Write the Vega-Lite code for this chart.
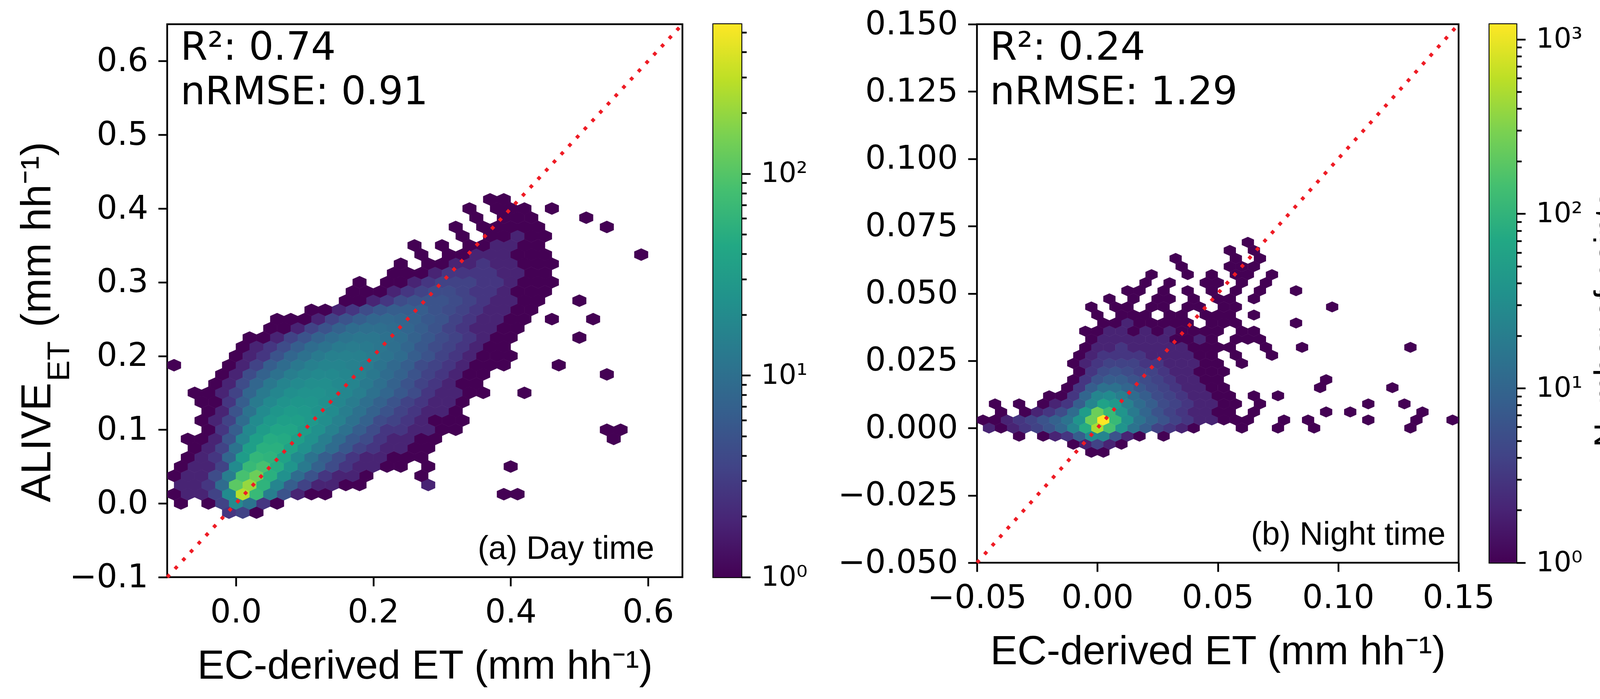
{
  "$schema": "https://vega.github.io/schema/vega-lite/v6.json",
  "background": "white",
  "padding": {"left": 40, "top": 18, "right": 40, "bottom": 20},
  "bounds": "flush",
  "spacing": 79,
  "config": {
    "font": "DejaVu Sans",
    "view": {"stroke": "black", "strokeWidth": 4.5},
    "axis": {
      "grid": false, "domain": false,
      "tickColor": "black", "tickWidth": 4.5, "tickSize": 23,
      "labelFont": "DejaVu Sans", "labelFontSize": 83, "labelColor": "black", "labelPadding": 26, "labelLimit": 0,
      "labelFlush": false, "labelOverlap": false, "labelBound": false,
      "titleFont": "Liberation Sans", "titleFontSize": 104, "titleFontWeight": "normal", "titleColor": "black", "titleLimit": 0
    }
  },
  "datasets": {
    "day": [
      {"ec":-0.01,"alive":-0.0125,"n":3},{"ec":0.01,"alive":-0.0125,"n":4},{"ec":0.03,"alive":-0.0125,"n":1},
      {"ec":-0.08,"alive":0,"n":1},{"ec":-0.04,"alive":0,"n":1},{"ec":-0.02,"alive":0,"n":4},{"ec":0,"alive":0,"n":30},{"ec":0.02,"alive":0,"n":15},{"ec":0.04,"alive":0,"n":3},{"ec":0.06,"alive":0,"n":1},
      {"ec":-0.09,"alive":0.0125,"n":1},{"ec":-0.07,"alive":0.0125,"n":2},{"ec":-0.05,"alive":0.0125,"n":2},{"ec":-0.03,"alive":0.0125,"n":4},{"ec":-0.01,"alive":0.0125,"n":30},{"ec":0.01,"alive":0.0125,"n":550},{"ec":0.03,"alive":0.0125,"n":120},{"ec":0.05,"alive":0.0125,"n":20},{"ec":0.07,"alive":0.0125,"n":6},{"ec":0.09,"alive":0.0125,"n":2},{"ec":0.11,"alive":0.0125,"n":1},{"ec":0.13,"alive":0.0125,"n":1},{"ec":0.39,"alive":0.0125,"n":1},{"ec":0.41,"alive":0.0125,"n":1},
      {"ec":-0.08,"alive":0.025,"n":2},{"ec":-0.06,"alive":0.025,"n":2},{"ec":-0.04,"alive":0.025,"n":3},{"ec":-0.02,"alive":0.025,"n":12},{"ec":0,"alive":0.025,"n":200},{"ec":0.02,"alive":0.025,"n":400},{"ec":0.04,"alive":0.025,"n":100},{"ec":0.06,"alive":0.025,"n":25},{"ec":0.08,"alive":0.025,"n":8},{"ec":0.1,"alive":0.025,"n":4},{"ec":0.12,"alive":0.025,"n":2},{"ec":0.14,"alive":0.025,"n":2},{"ec":0.16,"alive":0.025,"n":1},{"ec":0.18,"alive":0.025,"n":1},{"ec":0.28,"alive":0.025,"n":2},
      {"ec":-0.09,"alive":0.0375,"n":1},{"ec":-0.07,"alive":0.0375,"n":2},{"ec":-0.05,"alive":0.0375,"n":2},{"ec":-0.03,"alive":0.0375,"n":5},{"ec":-0.01,"alive":0.0375,"n":20},{"ec":0.01,"alive":0.0375,"n":150},{"ec":0.03,"alive":0.0375,"n":250},{"ec":0.05,"alive":0.0375,"n":90},{"ec":0.07,"alive":0.0375,"n":35},{"ec":0.09,"alive":0.0375,"n":12},{"ec":0.11,"alive":0.0375,"n":6},{"ec":0.13,"alive":0.0375,"n":3},{"ec":0.15,"alive":0.0375,"n":2},{"ec":0.17,"alive":0.0375,"n":2},{"ec":0.19,"alive":0.0375,"n":1},{"ec":0.27,"alive":0.0375,"n":1},
      {"ec":-0.08,"alive":0.05,"n":1},{"ec":-0.06,"alive":0.05,"n":2},{"ec":-0.04,"alive":0.05,"n":2},{"ec":-0.02,"alive":0.05,"n":4},{"ec":0,"alive":0.05,"n":30},{"ec":0.02,"alive":0.05,"n":120},{"ec":0.04,"alive":0.05,"n":150},{"ec":0.06,"alive":0.05,"n":80},{"ec":0.08,"alive":0.05,"n":40},{"ec":0.1,"alive":0.05,"n":18},{"ec":0.12,"alive":0.05,"n":9},{"ec":0.14,"alive":0.05,"n":5},{"ec":0.16,"alive":0.05,"n":3},{"ec":0.18,"alive":0.05,"n":2},{"ec":0.2,"alive":0.05,"n":2},{"ec":0.22,"alive":0.05,"n":1},{"ec":0.24,"alive":0.05,"n":1},{"ec":0.28,"alive":0.05,"n":1},{"ec":0.4,"alive":0.05,"n":1},
      {"ec":-0.07,"alive":0.0625,"n":1},{"ec":-0.05,"alive":0.0625,"n":2},{"ec":-0.03,"alive":0.0625,"n":3},{"ec":-0.01,"alive":0.0625,"n":10},{"ec":0.01,"alive":0.0625,"n":50},{"ec":0.03,"alive":0.0625,"n":110},{"ec":0.05,"alive":0.0625,"n":100},{"ec":0.07,"alive":0.0625,"n":60},{"ec":0.09,"alive":0.0625,"n":30},{"ec":0.11,"alive":0.0625,"n":15},{"ec":0.13,"alive":0.0625,"n":8},{"ec":0.15,"alive":0.0625,"n":5},{"ec":0.17,"alive":0.0625,"n":3},{"ec":0.19,"alive":0.0625,"n":2},{"ec":0.21,"alive":0.0625,"n":2},{"ec":0.23,"alive":0.0625,"n":1},{"ec":0.25,"alive":0.0625,"n":1},{"ec":0.27,"alive":0.0625,"n":1},
      {"ec":-0.06,"alive":0.075,"n":1},{"ec":-0.04,"alive":0.075,"n":2},{"ec":-0.02,"alive":0.075,"n":4},{"ec":0,"alive":0.075,"n":15},{"ec":0.02,"alive":0.075,"n":55},{"ec":0.04,"alive":0.075,"n":90},{"ec":0.06,"alive":0.075,"n":90},{"ec":0.08,"alive":0.075,"n":60},{"ec":0.1,"alive":0.075,"n":35},{"ec":0.12,"alive":0.075,"n":20},{"ec":0.14,"alive":0.075,"n":12},{"ec":0.16,"alive":0.075,"n":7},{"ec":0.18,"alive":0.075,"n":4},{"ec":0.2,"alive":0.075,"n":3},{"ec":0.22,"alive":0.075,"n":2},{"ec":0.24,"alive":0.075,"n":2},{"ec":0.26,"alive":0.075,"n":1},{"ec":0.28,"alive":0.075,"n":1},
      {"ec":-0.07,"alive":0.0875,"n":1},{"ec":-0.05,"alive":0.0875,"n":1},{"ec":-0.03,"alive":0.0875,"n":2},{"ec":-0.01,"alive":0.0875,"n":6},{"ec":0.01,"alive":0.0875,"n":25},{"ec":0.03,"alive":0.0875,"n":55},{"ec":0.05,"alive":0.0875,"n":80},{"ec":0.07,"alive":0.0875,"n":75},{"ec":0.09,"alive":0.0875,"n":55},{"ec":0.11,"alive":0.0875,"n":35},{"ec":0.13,"alive":0.0875,"n":20},{"ec":0.15,"alive":0.0875,"n":12},{"ec":0.17,"alive":0.0875,"n":7},{"ec":0.19,"alive":0.0875,"n":5},{"ec":0.21,"alive":0.0875,"n":3},{"ec":0.23,"alive":0.0875,"n":2},{"ec":0.25,"alive":0.0875,"n":2},{"ec":0.27,"alive":0.0875,"n":1},{"ec":0.29,"alive":0.0875,"n":1},{"ec":0.55,"alive":0.0875,"n":1},
      {"ec":-0.04,"alive":0.1,"n":1},{"ec":-0.02,"alive":0.1,"n":3},{"ec":0,"alive":0.1,"n":8},{"ec":0.02,"alive":0.1,"n":28},{"ec":0.04,"alive":0.1,"n":50},{"ec":0.06,"alive":0.1,"n":65},{"ec":0.08,"alive":0.1,"n":65},{"ec":0.1,"alive":0.1,"n":50},{"ec":0.12,"alive":0.1,"n":35},{"ec":0.14,"alive":0.1,"n":22},{"ec":0.16,"alive":0.1,"n":14},{"ec":0.18,"alive":0.1,"n":8},{"ec":0.2,"alive":0.1,"n":5},{"ec":0.22,"alive":0.1,"n":3},{"ec":0.24,"alive":0.1,"n":3},{"ec":0.26,"alive":0.1,"n":2},{"ec":0.28,"alive":0.1,"n":2},{"ec":0.3,"alive":0.1,"n":1},{"ec":0.32,"alive":0.1,"n":1},{"ec":0.54,"alive":0.1,"n":1},{"ec":0.56,"alive":0.1,"n":1},
      {"ec":-0.05,"alive":0.1125,"n":1},{"ec":-0.03,"alive":0.1125,"n":2},{"ec":-0.01,"alive":0.1125,"n":4},{"ec":0.01,"alive":0.1125,"n":12},{"ec":0.03,"alive":0.1125,"n":30},{"ec":0.05,"alive":0.1125,"n":45},{"ec":0.07,"alive":0.1125,"n":55},{"ec":0.09,"alive":0.1125,"n":55},{"ec":0.11,"alive":0.1125,"n":45},{"ec":0.13,"alive":0.1125,"n":32},{"ec":0.15,"alive":0.1125,"n":22},{"ec":0.17,"alive":0.1125,"n":14},{"ec":0.19,"alive":0.1125,"n":9},{"ec":0.21,"alive":0.1125,"n":5},{"ec":0.23,"alive":0.1125,"n":4},{"ec":0.25,"alive":0.1125,"n":3},{"ec":0.27,"alive":0.1125,"n":2},{"ec":0.29,"alive":0.1125,"n":1},{"ec":0.31,"alive":0.1125,"n":1},{"ec":0.33,"alive":0.1125,"n":1},
      {"ec":-0.04,"alive":0.125,"n":1},{"ec":-0.02,"alive":0.125,"n":2},{"ec":0,"alive":0.125,"n":6},{"ec":0.02,"alive":0.125,"n":15},{"ec":0.04,"alive":0.125,"n":30},{"ec":0.06,"alive":0.125,"n":42},{"ec":0.08,"alive":0.125,"n":48},{"ec":0.1,"alive":0.125,"n":45},{"ec":0.12,"alive":0.125,"n":38},{"ec":0.14,"alive":0.125,"n":30},{"ec":0.16,"alive":0.125,"n":20},{"ec":0.18,"alive":0.125,"n":14},{"ec":0.2,"alive":0.125,"n":9},{"ec":0.22,"alive":0.125,"n":6},{"ec":0.24,"alive":0.125,"n":4},{"ec":0.26,"alive":0.125,"n":3},{"ec":0.28,"alive":0.125,"n":2},{"ec":0.3,"alive":0.125,"n":2},{"ec":0.32,"alive":0.125,"n":1},
      {"ec":-0.05,"alive":0.1375,"n":1},{"ec":-0.03,"alive":0.1375,"n":1},{"ec":-0.01,"alive":0.1375,"n":3},{"ec":0.01,"alive":0.1375,"n":8},{"ec":0.03,"alive":0.1375,"n":18},{"ec":0.05,"alive":0.1375,"n":28},{"ec":0.07,"alive":0.1375,"n":38},{"ec":0.09,"alive":0.1375,"n":42},{"ec":0.11,"alive":0.1375,"n":40},{"ec":0.13,"alive":0.1375,"n":34},{"ec":0.15,"alive":0.1375,"n":26},{"ec":0.17,"alive":0.1375,"n":19},{"ec":0.19,"alive":0.1375,"n":13},{"ec":0.21,"alive":0.1375,"n":9},{"ec":0.23,"alive":0.1375,"n":6},{"ec":0.25,"alive":0.1375,"n":4},{"ec":0.27,"alive":0.1375,"n":3},{"ec":0.29,"alive":0.1375,"n":2},{"ec":0.31,"alive":0.1375,"n":2},{"ec":0.33,"alive":0.1375,"n":1},
      {"ec":-0.06,"alive":0.15,"n":1},{"ec":-0.04,"alive":0.15,"n":1},{"ec":-0.02,"alive":0.15,"n":2},{"ec":0,"alive":0.15,"n":4},{"ec":0.02,"alive":0.15,"n":10},{"ec":0.04,"alive":0.15,"n":18},{"ec":0.06,"alive":0.15,"n":26},{"ec":0.08,"alive":0.15,"n":33},{"ec":0.1,"alive":0.15,"n":36},{"ec":0.12,"alive":0.15,"n":36},{"ec":0.14,"alive":0.15,"n":32},{"ec":0.16,"alive":0.15,"n":26},{"ec":0.18,"alive":0.15,"n":20},{"ec":0.2,"alive":0.15,"n":14},{"ec":0.22,"alive":0.15,"n":10},{"ec":0.24,"alive":0.15,"n":7},{"ec":0.26,"alive":0.15,"n":5},{"ec":0.28,"alive":0.15,"n":3},{"ec":0.3,"alive":0.15,"n":2},{"ec":0.32,"alive":0.15,"n":2},{"ec":0.34,"alive":0.15,"n":1},{"ec":0.36,"alive":0.15,"n":1},{"ec":0.42,"alive":0.15,"n":1},
      {"ec":-0.03,"alive":0.1625,"n":1},{"ec":-0.01,"alive":0.1625,"n":2},{"ec":0.01,"alive":0.1625,"n":5},{"ec":0.03,"alive":0.1625,"n":10},{"ec":0.05,"alive":0.1625,"n":17},{"ec":0.07,"alive":0.1625,"n":24},{"ec":0.09,"alive":0.1625,"n":29},{"ec":0.11,"alive":0.1625,"n":32},{"ec":0.13,"alive":0.1625,"n":32},{"ec":0.15,"alive":0.1625,"n":28},{"ec":0.17,"alive":0.1625,"n":24},{"ec":0.19,"alive":0.1625,"n":18},{"ec":0.21,"alive":0.1625,"n":13},{"ec":0.23,"alive":0.1625,"n":9},{"ec":0.25,"alive":0.1625,"n":6},{"ec":0.27,"alive":0.1625,"n":4},{"ec":0.29,"alive":0.1625,"n":3},{"ec":0.31,"alive":0.1625,"n":2},{"ec":0.33,"alive":0.1625,"n":1},{"ec":0.35,"alive":0.1625,"n":1},
      {"ec":-0.02,"alive":0.175,"n":1},{"ec":0,"alive":0.175,"n":2},{"ec":0.02,"alive":0.175,"n":5},{"ec":0.04,"alive":0.175,"n":9},{"ec":0.06,"alive":0.175,"n":14},{"ec":0.08,"alive":0.175,"n":20},{"ec":0.1,"alive":0.175,"n":25},{"ec":0.12,"alive":0.175,"n":28},{"ec":0.14,"alive":0.175,"n":28},{"ec":0.16,"alive":0.175,"n":26},{"ec":0.18,"alive":0.175,"n":22},{"ec":0.2,"alive":0.175,"n":17},{"ec":0.22,"alive":0.175,"n":12},{"ec":0.24,"alive":0.175,"n":9},{"ec":0.26,"alive":0.175,"n":6},{"ec":0.28,"alive":0.175,"n":4},{"ec":0.3,"alive":0.175,"n":3},{"ec":0.32,"alive":0.175,"n":2},{"ec":0.34,"alive":0.175,"n":1},{"ec":0.36,"alive":0.175,"n":1},{"ec":0.54,"alive":0.175,"n":1},
      {"ec":-0.09,"alive":0.1875,"n":1},{"ec":-0.01,"alive":0.1875,"n":1},{"ec":0.01,"alive":0.1875,"n":2},{"ec":0.03,"alive":0.1875,"n":4},{"ec":0.05,"alive":0.1875,"n":8},{"ec":0.07,"alive":0.1875,"n":12},{"ec":0.09,"alive":0.1875,"n":17},{"ec":0.11,"alive":0.1875,"n":21},{"ec":0.13,"alive":0.1875,"n":24},{"ec":0.15,"alive":0.1875,"n":24},{"ec":0.17,"alive":0.1875,"n":22},{"ec":0.19,"alive":0.1875,"n":19},{"ec":0.21,"alive":0.1875,"n":15},{"ec":0.23,"alive":0.1875,"n":11},{"ec":0.25,"alive":0.1875,"n":8},{"ec":0.27,"alive":0.1875,"n":5},{"ec":0.29,"alive":0.1875,"n":4},{"ec":0.31,"alive":0.1875,"n":3},{"ec":0.33,"alive":0.1875,"n":2},{"ec":0.35,"alive":0.1875,"n":1},{"ec":0.37,"alive":0.1875,"n":1},{"ec":0.39,"alive":0.1875,"n":1},{"ec":0.47,"alive":0.1875,"n":1},
      {"ec":0,"alive":0.2,"n":1},{"ec":0.02,"alive":0.2,"n":2},{"ec":0.04,"alive":0.2,"n":3},{"ec":0.06,"alive":0.2,"n":6},{"ec":0.08,"alive":0.2,"n":10},{"ec":0.1,"alive":0.2,"n":14},{"ec":0.12,"alive":0.2,"n":18},{"ec":0.14,"alive":0.2,"n":21},{"ec":0.16,"alive":0.2,"n":22},{"ec":0.18,"alive":0.2,"n":21},{"ec":0.2,"alive":0.2,"n":19},{"ec":0.22,"alive":0.2,"n":15},{"ec":0.24,"alive":0.2,"n":12},{"ec":0.26,"alive":0.2,"n":8},{"ec":0.28,"alive":0.2,"n":6},{"ec":0.3,"alive":0.2,"n":4},{"ec":0.32,"alive":0.2,"n":3},{"ec":0.34,"alive":0.2,"n":2},{"ec":0.36,"alive":0.2,"n":1},{"ec":0.38,"alive":0.2,"n":1},{"ec":0.4,"alive":0.2,"n":1},
      {"ec":0.01,"alive":0.2125,"n":1},{"ec":0.03,"alive":0.2125,"n":2},{"ec":0.05,"alive":0.2125,"n":3},{"ec":0.07,"alive":0.2125,"n":5},{"ec":0.09,"alive":0.2125,"n":8},{"ec":0.11,"alive":0.2125,"n":12},{"ec":0.13,"alive":0.2125,"n":15},{"ec":0.15,"alive":0.2125,"n":18},{"ec":0.17,"alive":0.2125,"n":19},{"ec":0.19,"alive":0.2125,"n":18},{"ec":0.21,"alive":0.2125,"n":16},{"ec":0.23,"alive":0.2125,"n":13},{"ec":0.25,"alive":0.2125,"n":10},{"ec":0.27,"alive":0.2125,"n":7},{"ec":0.29,"alive":0.2125,"n":5},{"ec":0.31,"alive":0.2125,"n":4},{"ec":0.33,"alive":0.2125,"n":3},{"ec":0.35,"alive":0.2125,"n":2},{"ec":0.37,"alive":0.2125,"n":1},{"ec":0.39,"alive":0.2125,"n":1},
      {"ec":0.02,"alive":0.225,"n":1},{"ec":0.04,"alive":0.225,"n":1},{"ec":0.06,"alive":0.225,"n":2},{"ec":0.08,"alive":0.225,"n":4},{"ec":0.1,"alive":0.225,"n":6},{"ec":0.12,"alive":0.225,"n":9},{"ec":0.14,"alive":0.225,"n":12},{"ec":0.16,"alive":0.225,"n":15},{"ec":0.18,"alive":0.225,"n":16},{"ec":0.2,"alive":0.225,"n":16},{"ec":0.22,"alive":0.225,"n":14},{"ec":0.24,"alive":0.225,"n":12},{"ec":0.26,"alive":0.225,"n":9},{"ec":0.28,"alive":0.225,"n":7},{"ec":0.3,"alive":0.225,"n":5},{"ec":0.32,"alive":0.225,"n":4},{"ec":0.34,"alive":0.225,"n":3},{"ec":0.36,"alive":0.225,"n":2},{"ec":0.38,"alive":0.225,"n":1},{"ec":0.4,"alive":0.225,"n":1},{"ec":0.5,"alive":0.225,"n":1},
      {"ec":0.05,"alive":0.2375,"n":1},{"ec":0.07,"alive":0.2375,"n":1},{"ec":0.09,"alive":0.2375,"n":2},{"ec":0.11,"alive":0.2375,"n":4},{"ec":0.13,"alive":0.2375,"n":6},{"ec":0.15,"alive":0.2375,"n":9},{"ec":0.17,"alive":0.2375,"n":12},{"ec":0.19,"alive":0.2375,"n":13},{"ec":0.21,"alive":0.2375,"n":13},{"ec":0.23,"alive":0.2375,"n":12},{"ec":0.25,"alive":0.2375,"n":10},{"ec":0.27,"alive":0.2375,"n":8},{"ec":0.29,"alive":0.2375,"n":6},{"ec":0.31,"alive":0.2375,"n":4},{"ec":0.33,"alive":0.2375,"n":3},{"ec":0.35,"alive":0.2375,"n":2},{"ec":0.37,"alive":0.2375,"n":2},{"ec":0.39,"alive":0.2375,"n":1},{"ec":0.41,"alive":0.2375,"n":1},
      {"ec":0.06,"alive":0.25,"n":1},{"ec":0.08,"alive":0.25,"n":1},{"ec":0.1,"alive":0.25,"n":1},{"ec":0.12,"alive":0.25,"n":2},{"ec":0.14,"alive":0.25,"n":4},{"ec":0.16,"alive":0.25,"n":6},{"ec":0.18,"alive":0.25,"n":8},{"ec":0.2,"alive":0.25,"n":10},{"ec":0.22,"alive":0.25,"n":11},{"ec":0.24,"alive":0.25,"n":10},{"ec":0.26,"alive":0.25,"n":9},{"ec":0.28,"alive":0.25,"n":7},{"ec":0.3,"alive":0.25,"n":6},{"ec":0.32,"alive":0.25,"n":4},{"ec":0.34,"alive":0.25,"n":3},{"ec":0.36,"alive":0.25,"n":2},{"ec":0.38,"alive":0.25,"n":2},{"ec":0.4,"alive":0.25,"n":1},{"ec":0.42,"alive":0.25,"n":1},{"ec":0.46,"alive":0.25,"n":1},{"ec":0.52,"alive":0.25,"n":1},
      {"ec":0.11,"alive":0.2625,"n":1},{"ec":0.13,"alive":0.2625,"n":1},{"ec":0.15,"alive":0.2625,"n":2},{"ec":0.17,"alive":0.2625,"n":3},{"ec":0.19,"alive":0.2625,"n":5},{"ec":0.21,"alive":0.2625,"n":7},{"ec":0.23,"alive":0.2625,"n":8},{"ec":0.25,"alive":0.2625,"n":8},{"ec":0.27,"alive":0.2625,"n":8},{"ec":0.29,"alive":0.2625,"n":6},{"ec":0.31,"alive":0.2625,"n":5},{"ec":0.33,"alive":0.2625,"n":4},{"ec":0.35,"alive":0.2625,"n":3},{"ec":0.37,"alive":0.2625,"n":2},{"ec":0.39,"alive":0.2625,"n":2},{"ec":0.41,"alive":0.2625,"n":1},{"ec":0.43,"alive":0.2625,"n":1},
      {"ec":0.16,"alive":0.275,"n":1},{"ec":0.18,"alive":0.275,"n":1},{"ec":0.2,"alive":0.275,"n":2},{"ec":0.22,"alive":0.275,"n":3},{"ec":0.24,"alive":0.275,"n":5},{"ec":0.26,"alive":0.275,"n":6},{"ec":0.28,"alive":0.275,"n":6},{"ec":0.3,"alive":0.275,"n":6},{"ec":0.32,"alive":0.275,"n":5},{"ec":0.34,"alive":0.275,"n":4},{"ec":0.36,"alive":0.275,"n":3},{"ec":0.38,"alive":0.275,"n":2},{"ec":0.4,"alive":0.275,"n":2},{"ec":0.42,"alive":0.275,"n":1},{"ec":0.44,"alive":0.275,"n":1},{"ec":0.5,"alive":0.275,"n":1},
      {"ec":0.17,"alive":0.2875,"n":1},{"ec":0.19,"alive":0.2875,"n":1},{"ec":0.21,"alive":0.2875,"n":1},{"ec":0.23,"alive":0.2875,"n":2},{"ec":0.25,"alive":0.2875,"n":3},{"ec":0.27,"alive":0.2875,"n":4},{"ec":0.29,"alive":0.2875,"n":5},{"ec":0.31,"alive":0.2875,"n":5},{"ec":0.33,"alive":0.2875,"n":4},{"ec":0.35,"alive":0.2875,"n":3},{"ec":0.37,"alive":0.2875,"n":3},{"ec":0.39,"alive":0.2875,"n":2},{"ec":0.41,"alive":0.2875,"n":1},{"ec":0.43,"alive":0.2875,"n":1},{"ec":0.45,"alive":0.2875,"n":1},
      {"ec":0.18,"alive":0.3,"n":1},{"ec":0.22,"alive":0.3,"n":1},{"ec":0.24,"alive":0.3,"n":1},{"ec":0.26,"alive":0.3,"n":2},{"ec":0.28,"alive":0.3,"n":3},{"ec":0.3,"alive":0.3,"n":4},{"ec":0.32,"alive":0.3,"n":4},{"ec":0.34,"alive":0.3,"n":4},{"ec":0.36,"alive":0.3,"n":3},{"ec":0.38,"alive":0.3,"n":3},{"ec":0.4,"alive":0.3,"n":2},{"ec":0.42,"alive":0.3,"n":1},{"ec":0.44,"alive":0.3,"n":1},{"ec":0.46,"alive":0.3,"n":1},
      {"ec":0.23,"alive":0.3125,"n":1},{"ec":0.25,"alive":0.3125,"n":1},{"ec":0.27,"alive":0.3125,"n":1},{"ec":0.29,"alive":0.3125,"n":2},{"ec":0.31,"alive":0.3125,"n":3},{"ec":0.33,"alive":0.3125,"n":3},{"ec":0.35,"alive":0.3125,"n":3},{"ec":0.37,"alive":0.3125,"n":3},{"ec":0.39,"alive":0.3125,"n":2},{"ec":0.41,"alive":0.3125,"n":2},{"ec":0.43,"alive":0.3125,"n":1},{"ec":0.45,"alive":0.3125,"n":1},
      {"ec":0.24,"alive":0.325,"n":1},{"ec":0.28,"alive":0.325,"n":1},{"ec":0.3,"alive":0.325,"n":1},{"ec":0.32,"alive":0.325,"n":2},{"ec":0.34,"alive":0.325,"n":2},{"ec":0.36,"alive":0.325,"n":3},{"ec":0.38,"alive":0.325,"n":2},{"ec":0.4,"alive":0.325,"n":2},{"ec":0.42,"alive":0.325,"n":1},{"ec":0.44,"alive":0.325,"n":1},{"ec":0.46,"alive":0.325,"n":1},
      {"ec":0.27,"alive":0.3375,"n":1},{"ec":0.31,"alive":0.3375,"n":1},{"ec":0.33,"alive":0.3375,"n":1},{"ec":0.35,"alive":0.3375,"n":2},{"ec":0.37,"alive":0.3375,"n":2},{"ec":0.39,"alive":0.3375,"n":2},{"ec":0.41,"alive":0.3375,"n":1},{"ec":0.43,"alive":0.3375,"n":1},{"ec":0.45,"alive":0.3375,"n":1},{"ec":0.59,"alive":0.3375,"n":1},
      {"ec":0.26,"alive":0.35,"n":1},{"ec":0.3,"alive":0.35,"n":1},{"ec":0.34,"alive":0.35,"n":1},{"ec":0.36,"alive":0.35,"n":1},{"ec":0.38,"alive":0.35,"n":2},{"ec":0.4,"alive":0.35,"n":2},{"ec":0.42,"alive":0.35,"n":1},{"ec":0.44,"alive":0.35,"n":1},
      {"ec":0.33,"alive":0.3625,"n":1},{"ec":0.37,"alive":0.3625,"n":1},{"ec":0.39,"alive":0.3625,"n":1},{"ec":0.41,"alive":0.3625,"n":2},{"ec":0.43,"alive":0.3625,"n":1},{"ec":0.45,"alive":0.3625,"n":1},
      {"ec":0.32,"alive":0.375,"n":1},{"ec":0.36,"alive":0.375,"n":1},{"ec":0.38,"alive":0.375,"n":1},{"ec":0.4,"alive":0.375,"n":1},{"ec":0.42,"alive":0.375,"n":1},{"ec":0.44,"alive":0.375,"n":1},{"ec":0.54,"alive":0.375,"n":1},
      {"ec":0.35,"alive":0.3875,"n":1},{"ec":0.39,"alive":0.3875,"n":1},{"ec":0.41,"alive":0.3875,"n":1},{"ec":0.43,"alive":0.3875,"n":1},{"ec":0.51,"alive":0.3875,"n":1},
      {"ec":0.34,"alive":0.4,"n":1},{"ec":0.38,"alive":0.4,"n":1},{"ec":0.4,"alive":0.4,"n":1},{"ec":0.42,"alive":0.4,"n":1},{"ec":0.46,"alive":0.4,"n":1},
      {"ec":0.37,"alive":0.4125,"n":1},{"ec":0.39,"alive":0.4125,"n":1}
    ],
    "night": [
      {"ec":-0.0025,"alive":-0.009,"n":1},{"ec":0.0025,"alive":-0.009,"n":1},
      {"ec":-0.01,"alive":-0.006,"n":1},{"ec":-0.005,"alive":-0.006,"n":2},{"ec":0,"alive":-0.006,"n":4},{"ec":0.005,"alive":-0.006,"n":2},{"ec":0.01,"alive":-0.006,"n":1},
      {"ec":-0.0325,"alive":-0.003,"n":1},{"ec":-0.0225,"alive":-0.003,"n":1},{"ec":-0.0175,"alive":-0.003,"n":2},{"ec":-0.0125,"alive":-0.003,"n":3},{"ec":-0.0075,"alive":-0.003,"n":8},{"ec":-0.0025,"alive":-0.003,"n":30},{"ec":0.0025,"alive":-0.003,"n":25},{"ec":0.0075,"alive":-0.003,"n":6},{"ec":0.0125,"alive":-0.003,"n":2},{"ec":0.0175,"alive":-0.003,"n":1},{"ec":0.0275,"alive":-0.003,"n":1},
      {"ec":-0.045,"alive":0,"n":2},{"ec":-0.04,"alive":0,"n":1},{"ec":-0.035,"alive":0,"n":2},{"ec":-0.03,"alive":0,"n":3},{"ec":-0.025,"alive":0,"n":4},{"ec":-0.02,"alive":0,"n":6},{"ec":-0.015,"alive":0,"n":10},{"ec":-0.01,"alive":0,"n":25},{"ec":-0.005,"alive":0,"n":80},{"ec":0,"alive":0,"n":500},{"ec":0.005,"alive":0,"n":150},{"ec":0.01,"alive":0,"n":40},{"ec":0.015,"alive":0,"n":15},{"ec":0.02,"alive":0,"n":8},{"ec":0.025,"alive":0,"n":4},{"ec":0.03,"alive":0,"n":3},{"ec":0.035,"alive":0,"n":2},{"ec":0.04,"alive":0,"n":1},{"ec":0.06,"alive":0,"n":1},{"ec":0.075,"alive":0,"n":1},{"ec":0.09,"alive":0,"n":1},{"ec":0.13,"alive":0,"n":1},
      {"ec":-0.0475,"alive":0.003,"n":1},{"ec":-0.0425,"alive":0.003,"n":1},{"ec":-0.0375,"alive":0.003,"n":2},{"ec":-0.0325,"alive":0.003,"n":3},{"ec":-0.0275,"alive":0.003,"n":4},{"ec":-0.0225,"alive":0.003,"n":6},{"ec":-0.0175,"alive":0.003,"n":9},{"ec":-0.0125,"alive":0.003,"n":15},{"ec":-0.0075,"alive":0.003,"n":40},{"ec":-0.0025,"alive":0.003,"n":250},{"ec":0.0025,"alive":0.003,"n":1200},{"ec":0.0075,"alive":0.003,"n":120},{"ec":0.0125,"alive":0.003,"n":35},{"ec":0.0175,"alive":0.003,"n":15},{"ec":0.0225,"alive":0.003,"n":9},{"ec":0.0275,"alive":0.003,"n":6},{"ec":0.0325,"alive":0.003,"n":4},{"ec":0.0375,"alive":0.003,"n":3},{"ec":0.0425,"alive":0.003,"n":2},{"ec":0.0475,"alive":0.003,"n":2},{"ec":0.0525,"alive":0.003,"n":1},{"ec":0.0575,"alive":0.003,"n":1},{"ec":0.0625,"alive":0.003,"n":1},{"ec":0.0775,"alive":0.003,"n":1},{"ec":0.0875,"alive":0.003,"n":1},{"ec":0.1125,"alive":0.003,"n":1},{"ec":0.1325,"alive":0.003,"n":1},{"ec":0.1475,"alive":0.003,"n":1},
      {"ec":-0.04,"alive":0.006,"n":1},{"ec":-0.03,"alive":0.006,"n":1},{"ec":-0.025,"alive":0.006,"n":2},{"ec":-0.02,"alive":0.006,"n":3},{"ec":-0.015,"alive":0.006,"n":5},{"ec":-0.01,"alive":0.006,"n":12},{"ec":-0.005,"alive":0.006,"n":50},{"ec":0,"alive":0.006,"n":250},{"ec":0.005,"alive":0.006,"n":120},{"ec":0.01,"alive":0.006,"n":40},{"ec":0.015,"alive":0.006,"n":18},{"ec":0.02,"alive":0.006,"n":10},{"ec":0.025,"alive":0.006,"n":6},{"ec":0.03,"alive":0.006,"n":4},{"ec":0.035,"alive":0.006,"n":3},{"ec":0.04,"alive":0.006,"n":2},{"ec":0.045,"alive":0.006,"n":2},{"ec":0.05,"alive":0.006,"n":1},{"ec":0.055,"alive":0.006,"n":1},{"ec":0.065,"alive":0.006,"n":1},{"ec":0.095,"alive":0.006,"n":1},{"ec":0.105,"alive":0.006,"n":1},{"ec":0.135,"alive":0.006,"n":1},
      {"ec":-0.0425,"alive":0.009,"n":1},{"ec":-0.0325,"alive":0.009,"n":1},{"ec":-0.0225,"alive":0.009,"n":1},{"ec":-0.0175,"alive":0.009,"n":2},{"ec":-0.0125,"alive":0.009,"n":3},{"ec":-0.0075,"alive":0.009,"n":8},{"ec":-0.0025,"alive":0.009,"n":25},{"ec":0.0025,"alive":0.009,"n":60},{"ec":0.0075,"alive":0.009,"n":45},{"ec":0.0125,"alive":0.009,"n":22},{"ec":0.0175,"alive":0.009,"n":12},{"ec":0.0225,"alive":0.009,"n":8},{"ec":0.0275,"alive":0.009,"n":5},{"ec":0.0325,"alive":0.009,"n":4},{"ec":0.0375,"alive":0.009,"n":3},{"ec":0.0425,"alive":0.009,"n":2},{"ec":0.0475,"alive":0.009,"n":2},{"ec":0.0525,"alive":0.009,"n":1},{"ec":0.0575,"alive":0.009,"n":1},{"ec":0.0675,"alive":0.009,"n":1},{"ec":0.1125,"alive":0.009,"n":1},{"ec":0.1275,"alive":0.009,"n":1},
      {"ec":-0.02,"alive":0.012,"n":1},{"ec":-0.015,"alive":0.012,"n":1},{"ec":-0.01,"alive":0.012,"n":3},{"ec":-0.005,"alive":0.012,"n":10},{"ec":0,"alive":0.012,"n":25},{"ec":0.005,"alive":0.012,"n":30},{"ec":0.01,"alive":0.012,"n":20},{"ec":0.015,"alive":0.012,"n":12},{"ec":0.02,"alive":0.012,"n":8},{"ec":0.025,"alive":0.012,"n":5},{"ec":0.03,"alive":0.012,"n":4},{"ec":0.035,"alive":0.012,"n":3},{"ec":0.04,"alive":0.012,"n":2},{"ec":0.045,"alive":0.012,"n":2},{"ec":0.05,"alive":0.012,"n":1},{"ec":0.055,"alive":0.012,"n":1},{"ec":0.065,"alive":0.012,"n":1},{"ec":0.075,"alive":0.012,"n":1},
      {"ec":-0.0125,"alive":0.015,"n":1},{"ec":-0.0075,"alive":0.015,"n":3},{"ec":-0.0025,"alive":0.015,"n":8},{"ec":0.0025,"alive":0.015,"n":14},{"ec":0.0075,"alive":0.015,"n":14},{"ec":0.0125,"alive":0.015,"n":10},{"ec":0.0175,"alive":0.015,"n":7},{"ec":0.0225,"alive":0.015,"n":5},{"ec":0.0275,"alive":0.015,"n":4},{"ec":0.0325,"alive":0.015,"n":3},{"ec":0.0375,"alive":0.015,"n":2},{"ec":0.0425,"alive":0.015,"n":2},{"ec":0.0475,"alive":0.015,"n":1},{"ec":0.0525,"alive":0.015,"n":1},{"ec":0.0925,"alive":0.015,"n":1},{"ec":0.1225,"alive":0.015,"n":1},
      {"ec":-0.01,"alive":0.018,"n":1},{"ec":-0.005,"alive":0.018,"n":3},{"ec":0,"alive":0.018,"n":6},{"ec":0.005,"alive":0.018,"n":8},{"ec":0.01,"alive":0.018,"n":8},{"ec":0.015,"alive":0.018,"n":6},{"ec":0.02,"alive":0.018,"n":5},{"ec":0.025,"alive":0.018,"n":4},{"ec":0.03,"alive":0.018,"n":3},{"ec":0.035,"alive":0.018,"n":2},{"ec":0.04,"alive":0.018,"n":2},{"ec":0.045,"alive":0.018,"n":1},{"ec":0.05,"alive":0.018,"n":1},{"ec":0.095,"alive":0.018,"n":1},
      {"ec":-0.0075,"alive":0.021,"n":1},{"ec":-0.0025,"alive":0.021,"n":3},{"ec":0.0025,"alive":0.021,"n":5},{"ec":0.0075,"alive":0.021,"n":6},{"ec":0.0125,"alive":0.021,"n":5},{"ec":0.0175,"alive":0.021,"n":4},{"ec":0.0225,"alive":0.021,"n":4},{"ec":0.0275,"alive":0.021,"n":3},{"ec":0.0325,"alive":0.021,"n":2},{"ec":0.0375,"alive":0.021,"n":2},{"ec":0.0425,"alive":0.021,"n":1},{"ec":0.0475,"alive":0.021,"n":1},{"ec":0.0525,"alive":0.021,"n":1},
      {"ec":-0.01,"alive":0.024,"n":1},{"ec":-0.005,"alive":0.024,"n":2},{"ec":0,"alive":0.024,"n":3},{"ec":0.005,"alive":0.024,"n":4},{"ec":0.01,"alive":0.024,"n":4},{"ec":0.015,"alive":0.024,"n":4},{"ec":0.02,"alive":0.024,"n":3},{"ec":0.025,"alive":0.024,"n":3},{"ec":0.03,"alive":0.024,"n":2},{"ec":0.035,"alive":0.024,"n":2},{"ec":0.04,"alive":0.024,"n":2},{"ec":0.045,"alive":0.024,"n":1},{"ec":0.05,"alive":0.024,"n":1},{"ec":0.06,"alive":0.024,"n":1},
      {"ec":-0.0075,"alive":0.027,"n":1},{"ec":-0.0025,"alive":0.027,"n":2},{"ec":0.0025,"alive":0.027,"n":3},{"ec":0.0075,"alive":0.027,"n":3},{"ec":0.0125,"alive":0.027,"n":3},{"ec":0.0175,"alive":0.027,"n":3},{"ec":0.0225,"alive":0.027,"n":2},{"ec":0.0275,"alive":0.027,"n":2},{"ec":0.0325,"alive":0.027,"n":2},{"ec":0.0375,"alive":0.027,"n":2},{"ec":0.0425,"alive":0.027,"n":1},{"ec":0.0475,"alive":0.027,"n":1},{"ec":0.0575,"alive":0.027,"n":1},{"ec":0.0725,"alive":0.027,"n":1},
      {"ec":-0.005,"alive":0.03,"n":1},{"ec":0,"alive":0.03,"n":2},{"ec":0.005,"alive":0.03,"n":2},{"ec":0.01,"alive":0.03,"n":3},{"ec":0.015,"alive":0.03,"n":2},{"ec":0.02,"alive":0.03,"n":2},{"ec":0.025,"alive":0.03,"n":2},{"ec":0.03,"alive":0.03,"n":2},{"ec":0.035,"alive":0.03,"n":2},{"ec":0.04,"alive":0.03,"n":1},{"ec":0.045,"alive":0.03,"n":1},{"ec":0.05,"alive":0.03,"n":1},{"ec":0.055,"alive":0.03,"n":1},{"ec":0.07,"alive":0.03,"n":1},{"ec":0.085,"alive":0.03,"n":1},{"ec":0.13,"alive":0.03,"n":1},
      {"ec":-0.0025,"alive":0.033,"n":1},{"ec":0.0025,"alive":0.033,"n":2},{"ec":0.0075,"alive":0.033,"n":2},{"ec":0.0125,"alive":0.033,"n":2},{"ec":0.0175,"alive":0.033,"n":2},{"ec":0.0225,"alive":0.033,"n":2},{"ec":0.0275,"alive":0.033,"n":2},{"ec":0.0325,"alive":0.033,"n":1},{"ec":0.0375,"alive":0.033,"n":1},{"ec":0.0425,"alive":0.033,"n":2},{"ec":0.0475,"alive":0.033,"n":1},{"ec":0.0575,"alive":0.033,"n":1},{"ec":0.0625,"alive":0.033,"n":1},{"ec":0.0675,"alive":0.033,"n":1},
      {"ec":-0.005,"alive":0.036,"n":1},{"ec":0,"alive":0.036,"n":1},{"ec":0.005,"alive":0.036,"n":2},{"ec":0.01,"alive":0.036,"n":2},{"ec":0.015,"alive":0.036,"n":1},{"ec":0.02,"alive":0.036,"n":2},{"ec":0.025,"alive":0.036,"n":1},{"ec":0.03,"alive":0.036,"n":2},{"ec":0.035,"alive":0.036,"n":1},{"ec":0.04,"alive":0.036,"n":1},{"ec":0.045,"alive":0.036,"n":1},{"ec":0.05,"alive":0.036,"n":1},{"ec":0.06,"alive":0.036,"n":1},{"ec":0.065,"alive":0.036,"n":1},
      {"ec":0.0025,"alive":0.039,"n":1},{"ec":0.0075,"alive":0.039,"n":1},{"ec":0.0125,"alive":0.039,"n":2},{"ec":0.0175,"alive":0.039,"n":1},{"ec":0.0225,"alive":0.039,"n":1},{"ec":0.0275,"alive":0.039,"n":1},{"ec":0.0325,"alive":0.039,"n":1},{"ec":0.0375,"alive":0.039,"n":1},{"ec":0.0475,"alive":0.039,"n":1},{"ec":0.0525,"alive":0.039,"n":1},{"ec":0.0575,"alive":0.039,"n":1},{"ec":0.0825,"alive":0.039,"n":1},
      {"ec":0,"alive":0.042,"n":1},{"ec":0.01,"alive":0.042,"n":1},{"ec":0.015,"alive":0.042,"n":1},{"ec":0.02,"alive":0.042,"n":1},{"ec":0.03,"alive":0.042,"n":1},{"ec":0.035,"alive":0.042,"n":1},{"ec":0.045,"alive":0.042,"n":1},{"ec":0.05,"alive":0.042,"n":1},{"ec":0.055,"alive":0.042,"n":1},{"ec":0.065,"alive":0.042,"n":1},
      {"ec":-0.0025,"alive":0.045,"n":1},{"ec":0.0075,"alive":0.045,"n":1},{"ec":0.0125,"alive":0.045,"n":1},{"ec":0.0225,"alive":0.045,"n":1},{"ec":0.0275,"alive":0.045,"n":1},{"ec":0.0375,"alive":0.045,"n":1},{"ec":0.0425,"alive":0.045,"n":1},{"ec":0.0525,"alive":0.045,"n":1},{"ec":0.0575,"alive":0.045,"n":1},{"ec":0.0975,"alive":0.045,"n":1},
      {"ec":0.005,"alive":0.048,"n":1},{"ec":0.015,"alive":0.048,"n":1},{"ec":0.025,"alive":0.048,"n":1},{"ec":0.03,"alive":0.048,"n":1},{"ec":0.04,"alive":0.048,"n":1},{"ec":0.05,"alive":0.048,"n":1},{"ec":0.055,"alive":0.048,"n":1},{"ec":0.065,"alive":0.048,"n":1},
      {"ec":0.0125,"alive":0.051,"n":1},{"ec":0.0175,"alive":0.051,"n":1},{"ec":0.0275,"alive":0.051,"n":1},{"ec":0.0375,"alive":0.051,"n":1},{"ec":0.0475,"alive":0.051,"n":1},{"ec":0.0575,"alive":0.051,"n":1},{"ec":0.0675,"alive":0.051,"n":1},{"ec":0.0825,"alive":0.051,"n":1},
      {"ec":0.02,"alive":0.054,"n":1},{"ec":0.03,"alive":0.054,"n":1},{"ec":0.045,"alive":0.054,"n":1},{"ec":0.05,"alive":0.054,"n":1},{"ec":0.06,"alive":0.054,"n":1},{"ec":0.07,"alive":0.054,"n":1},
      {"ec":0.0225,"alive":0.057,"n":1},{"ec":0.0375,"alive":0.057,"n":1},{"ec":0.0475,"alive":0.057,"n":1},{"ec":0.0575,"alive":0.057,"n":1},{"ec":0.0625,"alive":0.057,"n":1},{"ec":0.0725,"alive":0.057,"n":1},
      {"ec":0.035,"alive":0.06,"n":1},{"ec":0.055,"alive":0.06,"n":1},{"ec":0.06,"alive":0.06,"n":1},{"ec":0.065,"alive":0.06,"n":1},
      {"ec":0.0325,"alive":0.063,"n":1},{"ec":0.0575,"alive":0.063,"n":1},{"ec":0.0675,"alive":0.063,"n":1},
      {"ec":0.055,"alive":0.066,"n":1},{"ec":0.065,"alive":0.066,"n":1},
      {"ec":0.0625,"alive":0.069,"n":1}
    ]
  },
  "hconcat": [
    {
      "width": 1319,
      "height": 1416,
      "layer": [
        {
          "data": {"name": "day"},
          "mark": {"type": "point", "shape": "M0,-0.895L1,-0.4475L1,0.4475L0,0.895L-1,0.4475L-1,-0.4475Z", "filled": true, "opacity": 1, "size": 1280, "clip": true},
          "encoding": {
            "x": {"field": "ec", "type": "quantitative", "scale": {"domain": [-0.1, 0.65], "nice": false, "zero": false},
                  "axis": {"values": [0, 0.2, 0.4, 0.6], "format": ".1f", "title": "EC-derived ET (mm hh⁻¹)", "titlePadding": 45}},
            "y": {"field": "alive", "type": "quantitative", "scale": {"domain": [-0.1, 0.65], "nice": false, "zero": false},
                  "axis": {"values": [-0.1, 0, 0.1, 0.2, 0.3, 0.4, 0.5, 0.6], "format": ".1f", "title": null}},
            "color": {"field": "n", "type": "quantitative", "scale": {"type": "log", "domain": [1, 550], "scheme": "viridis"}, "legend": null}
          }
        },
        {
          "data": {"values": [{}]},
          "mark": {"type": "rule", "color": "#ee1c25", "strokeWidth": 9, "strokeDash": [9, 20]},
          "encoding": {"x": {"datum": -0.1}, "y": {"datum": -0.1}, "x2": {"datum": 0.65}, "y2": {"datum": 0.65}}
        },
        {
          "data": {"values": [{}]},
          "mark": {"type": "text", "text": ["R²: 0.74", "nRMSE: 0.91"], "font": "DejaVu Sans", "fontSize": 100, "lineHeight": 114, "align": "left", "baseline": "alphabetic", "color": "black"},
          "encoding": {"x": {"datum": -0.0807}, "y": {"datum": 0.6017}}
        },
        {
          "data": {"values": [{}]},
          "mark": {"type": "text", "text": "(a) Day time", "font": "Liberation Sans", "fontSize": 83, "align": "right", "baseline": "alphabetic", "color": "black"},
          "encoding": {"x": {"datum": 0.609}, "y": {"datum": -0.075}}
        },
        {
          "data": {"values": [{}]},
          "mark": {"type": "text", "text": "ALIVE", "font": "Liberation Sans", "fontSize": 108, "angle": 270, "align": "left", "baseline": "alphabetic", "color": "black"},
          "encoding": {"x": {"datum": -0.27}, "y": {"datum": 0.0016}}
        },
        {
          "data": {"values": [{}]},
          "mark": {"type": "text", "text": "ET", "font": "Liberation Sans", "fontSize": 80, "angle": 270, "align": "left", "baseline": "alphabetic", "color": "black"},
          "encoding": {"x": {"datum": -0.243}, "y": {"datum": 0.1658}}
        },
        {
          "data": {"values": [{}]},
          "mark": {"type": "text", "text": "(mm hh⁻¹)", "font": "Liberation Sans", "fontSize": 108, "angle": 270, "align": "left", "baseline": "alphabetic", "color": "black"},
          "encoding": {"x": {"datum": -0.27}, "y": {"datum": 0.2389}}
        }
      ]
    },
    {
      "width": 72,
      "height": 1416,
      "data": {"values": [{}]},
      "mark": {"type": "rect", "color": {"gradient": "linear", "x1": 0, "y1": 1, "x2": 0, "y2": 0, "stops": [
        {"offset": 0, "color": "#440154"}, {"offset": 0.1, "color": "#482475"}, {"offset": 0.2, "color": "#414487"},
        {"offset": 0.3, "color": "#355f8d"}, {"offset": 0.4, "color": "#2a788e"}, {"offset": 0.5, "color": "#21918c"},
        {"offset": 0.6, "color": "#22a884"}, {"offset": 0.7, "color": "#44bf70"}, {"offset": 0.8, "color": "#7ad151"},
        {"offset": 0.9, "color": "#bddf26"}, {"offset": 1, "color": "#fde725"}]}},
      "encoding": {
        "y": {"datum": 1, "type": "quantitative", "scale": {"type": "log", "domain": [1, 550], "nice": false},
              "axis": {"orient": "right", "title": null, "labelFontSize": 71, "labelPadding": 27,
                       "values": [1, 2, 3, 4, 5, 6, 7, 8, 9, 10, 20, 30, 40, 50, 60, 70, 80, 90, 100, 200, 300, 400, 500],
                       "labelExpr": "datum.value == 1 ? '10⁰' : datum.value == 10 ? '10¹' : datum.value == 100 ? '10²' : ''",
                       "tickSize": {"condition": {"test": "datum.value == 1 || datum.value == 10 || datum.value == 100", "value": 23}, "value": 13}}},
        "y2": {"datum": 550}
      }
    },
    {
      "width": 445,
      "height": 1416,
      "view": {"stroke": null},
      "data": {"values": [{}]},
      "mark": {"type": "text", "text": ""}
    },
    {
      "width": 1233,
      "height": 1379,
      "layer": [
        {
          "data": {"name": "night"},
          "mark": {"type": "point", "shape": "M0,-0.895L1,-0.4475L1,0.4475L0,0.895L-1,0.4475L-1,-0.4475Z", "filled": true, "opacity": 1, "size": 980, "clip": true},
          "encoding": {
            "x": {"field": "ec", "type": "quantitative", "scale": {"domain": [-0.05, 0.15], "nice": false, "zero": false},
                  "axis": {"values": [-0.05, 0, 0.05, 0.1, 0.15], "format": ".2f", "title": "EC-derived ET (mm hh⁻¹)", "titlePadding": 45}},
            "y": {"field": "alive", "type": "quantitative", "scale": {"domain": [-0.05, 0.15], "nice": false, "zero": false},
                  "axis": {"values": [-0.05, -0.025, 0, 0.025, 0.05, 0.075, 0.1, 0.125, 0.15], "format": ".3f", "title": null}},
            "color": {"field": "n", "type": "quantitative", "scale": {"type": "log", "domain": [1, 1220], "scheme": "viridis"}, "legend": null}
          }
        },
        {
          "data": {"values": [{}]},
          "mark": {"type": "rule", "color": "#ee1c25", "strokeWidth": 9, "strokeDash": [9, 20]},
          "encoding": {"x": {"datum": -0.05}, "y": {"datum": -0.05}, "x2": {"datum": 0.15}, "y2": {"datum": 0.15}}
        },
        {
          "data": {"values": [{}]},
          "mark": {"type": "text", "text": ["R²: 0.24", "nRMSE: 1.29"], "font": "DejaVu Sans", "fontSize": 100, "lineHeight": 114, "align": "left", "baseline": "alphabetic", "color": "black"},
          "encoding": {"x": {"datum": -0.0446}, "y": {"datum": 0.1368}}
        },
        {
          "data": {"values": [{}]},
          "mark": {"type": "text", "text": "(b) Night time", "font": "Liberation Sans", "fontSize": 83, "align": "right", "baseline": "alphabetic", "color": "black"},
          "encoding": {"x": {"datum": 0.1446}, "y": {"datum": -0.0433}}
        }
      ]
    },
    {
      "width": 69,
      "height": 1379,
      "data": {"values": [{}]},
      "mark": {"type": "rect", "color": {"gradient": "linear", "x1": 0, "y1": 1, "x2": 0, "y2": 0, "stops": [
        {"offset": 0, "color": "#440154"}, {"offset": 0.1, "color": "#482475"}, {"offset": 0.2, "color": "#414487"},
        {"offset": 0.3, "color": "#355f8d"}, {"offset": 0.4, "color": "#2a788e"}, {"offset": 0.5, "color": "#21918c"},
        {"offset": 0.6, "color": "#22a884"}, {"offset": 0.7, "color": "#44bf70"}, {"offset": 0.8, "color": "#7ad151"},
        {"offset": 0.9, "color": "#bddf26"}, {"offset": 1, "color": "#fde725"}]}},
      "encoding": {
        "y": {"datum": 1, "type": "quantitative", "scale": {"type": "log", "domain": [1, 1220], "nice": false},
              "axis": {"orient": "right", "title": "Number of points", "titleFontSize": 86, "titleAngle": 270, "titleBaseline": "top", "titlePadding": 22, "titleY": 755,
                       "labelFontSize": 71, "labelPadding": 27,
                       "values": [1, 2, 3, 4, 5, 6, 7, 8, 9, 10, 20, 30, 40, 50, 60, 70, 80, 90, 100, 200, 300, 400, 500, 600, 700, 800, 900, 1000],
                       "labelExpr": "datum.value == 1 ? '10⁰' : datum.value == 10 ? '10¹' : datum.value == 100 ? '10²' : datum.value == 1000 ? '10³' : ''",
                       "tickSize": {"condition": {"test": "datum.value == 1 || datum.value == 10 || datum.value == 100 || datum.value == 1000", "value": 23}, "value": 13}}},
        "y2": {"datum": 1220}
      }
    }
  ]
}
